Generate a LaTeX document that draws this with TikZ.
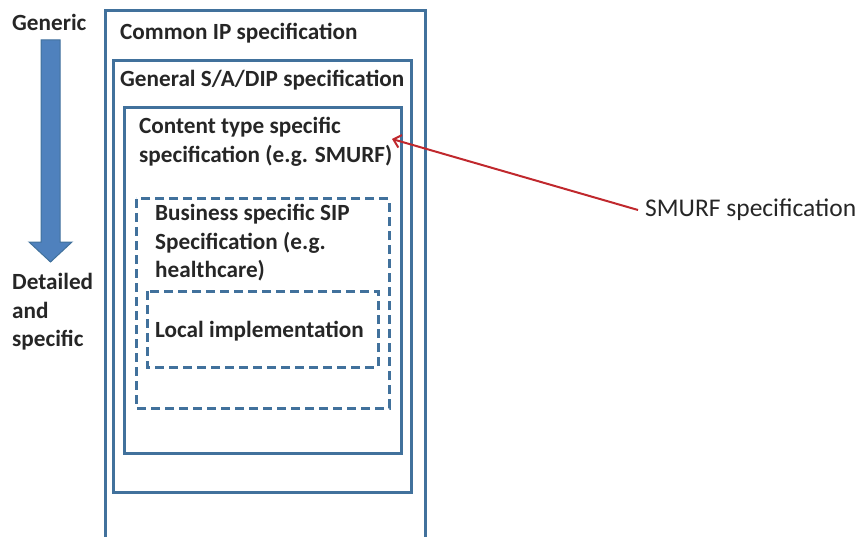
\documentclass[tikz,border=0pt]{standalone}
\usepackage{fontspec}
\setmainfont{Carlito}
\usepackage{tikz}
\usetikzlibrary{arrows.meta}
\definecolor{boxblue}{HTML}{41719C}
\definecolor{arrowblue}{HTML}{4F81BD}
\definecolor{smurfred}{HTML}{C0282D}
\tikzset{
  specbox/.style={draw=boxblue, line width=3pt},
  localbox/.style={specbox, dash pattern=on 9pt off 5pt},
  spectext/.style={anchor=west, inner sep=0pt, align=left, text=black!85,
    font=\fontsize{23.2}{28.5}\selectfont\bfseries},
}
\begin{document}
\begin{tikzpicture}[x=1pt,y=-1pt]
        \useasboundingbox (0,0) rectangle (861,537);
        \clip (0,0) rectangle (861,537);
        \draw [specbox] (105,11) rectangle (425,560);
        \draw [specbox] (113,61) rectangle (411,492);
        \draw [specbox] (124,108) rectangle (401,453);
        \draw [localbox] (136,199) rectangle (389,408);
        \draw [localbox] (147,291) rectangle (378,367);
        \node [spectext] (common) at (120,33) {Common IP specification};
        \node [spectext] (general) at (120,80) {General S/A/DIP specification};
        \node [spectext] (content) at (139,142) {Content type specific\\specification (e.g. SMURF)};
        \node [spectext] (business) at (155,243) {Business specific SIP\\Specification (e.g.\\healthcare)};
        \node [spectext] (local) at (155,331) {Local implementation};
        \node [spectext] (generic) at (12,22) {Generic};
        \node [spectext] (detailed) at (12,312) {Detailed\\and\\specific};
        \draw [draw=boxblue, fill=arrowblue, line width=1pt]
          (41,40) -- (60,40) -- (60,242) -- (72,242) -- (50.5,262) -- (29,242) -- (41,242) -- cycle;
        \node [spectext, font=\fontsize{25.5}{30}\selectfont, inner xsep=7pt] (smurf) at (638,210) {SMURF specification};
        \coordinate (cbox) at (392,139);
        \draw [smurfred, line width=2pt, -{Straight Barb[length=7pt,width=13pt]}] (smurf.west) -- (cbox);
\end{tikzpicture}
\end{document}
